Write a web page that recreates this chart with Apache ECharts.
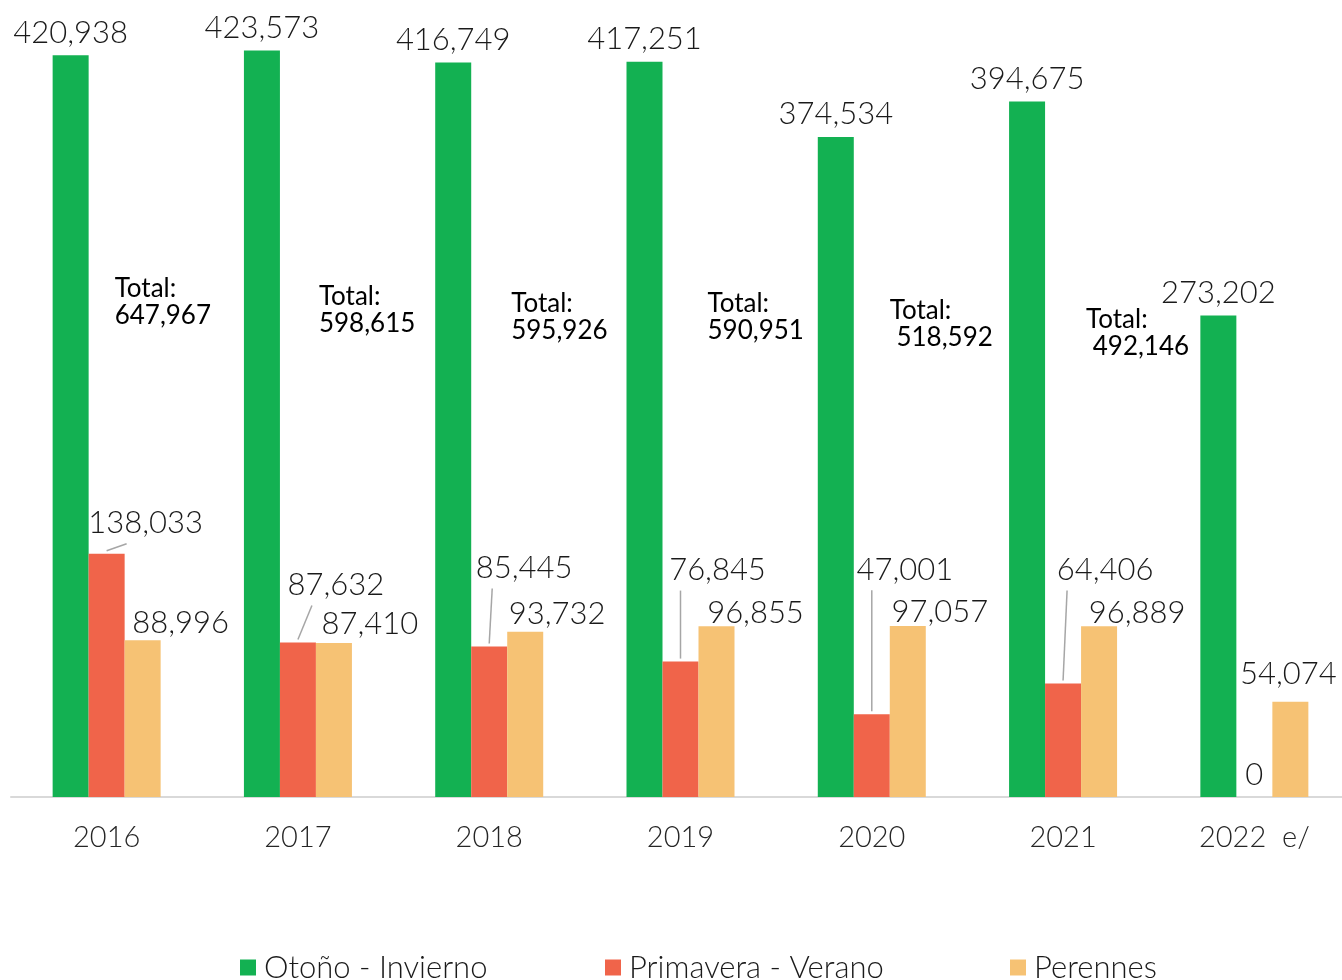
<!DOCTYPE html>
<html>
<head>
<meta charset="utf-8">
<script src="https://cdn.jsdelivr.net/npm/echarts@6/dist/echarts.min.js"></script>
<style>
  html, body { margin: 0; padding: 0; background: #fff; overflow: hidden; }
  #chart { width: 1351px; height: 980px; }
</style>
</head>
<body>
<div id="chart"></div>
<script>
// categorias y valores (hectáreas)
const years = ['2016', '2017', '2018', '2019', '2020', '2021', '2022  e/']
const otonoInvierno = [420938, 423573, 416749, 417251, 374534, 394675, 273202]
const primaveraVerano = [138033, 87632, 85445, 76845, 47001, 64406, 0]
const perennes = [88996, 87410, 93732, 96855, 97057, 96889, 54074]
const totals = ['647,967', '598,615', '595,926', '590,951', ' 518,592', ' 492,146']

// desplazamiento de etiquetas (px), como en el original
const redShift = [[39, -8], [38, -35], [35, -56], [37, -69], [33, -122], [42, -91], [0, 0]]
const yellowShift = [[38, 5], [36, 4], [32, 5], [39, 9], [32, 9], [38, 9], [-2, -5]]
// x final de la línea guía (desde el centro de la barra roja)
const leaderEnd = [20, 14, 3, 0, 0, 4]
// posición de los cuadros "Total" (dx desde el centro de la categoría, top en px)
const totalPos = [[8, 275], [21, 283], [22, 290], [27, 290], [18, 297], [23, 306]]

const FONT = 'Lato'
const fmt = v => v.toLocaleString('en-US')

const chart = echarts.init(document.getElementById('chart'))

const labelBase = {
  show: true,
  position: 'top',
  distance: 7,
  fontFamily: FONT,
  fontWeight: 300,
  fontSize: 31,
  color: '#1a1a1a',
  formatter: p => fmt(p.value)
}

function legendItem(name, left) {
  return {
    left: left,
    top: 952,
    padding: 0,
    itemWidth: 16,
    itemHeight: 16,
    itemGap: 0,
    icon: 'rect',
    textStyle: {
      fontFamily: FONT,
      fontWeight: 300,
      fontSize: 31,
      color: '#1a1a1a',
      padding: [0, 0, 0, 3]
    },
    data: [name]
  }
}

chart.setOption({
  animation: false,
  color: ['#13b152', '#f0644a', '#f6c274'],
  grid: {
    left: 11,
    right: 1,
    top: 4,
    height: 793
  },
  legend: [
    legendItem('Otoño - Invierno', 240),
    legendItem('Primavera - Verano', 605),
    legendItem('Perennes', 1010)
  ],
  xAxis: {
    type: 'category',
    data: years,
    axisTick: { show: false },
    axisLine: {
      lineStyle: { color: '#d9d9d9', width: 2 }
    },
    axisLabel: {
      margin: 26,
      fontFamily: FONT,
      fontWeight: 300,
      fontSize: 29,
      color: '#262626'
    }
  },
  yAxis: {
    type: 'value',
    min: 0,
    max: 450000,
    show: false
  },
  series: [
    {
      name: 'Otoño - Invierno',
      type: 'bar',
      data: otonoInvierno,
      barWidth: 36,
      barGap: 0,
      label: labelBase
    },
    {
      name: 'Primavera - Verano',
      type: 'bar',
      data: primaveraVerano,
      barWidth: 36,
      barGap: 0,
      label: labelBase,
      labelLayout: function (p) {
        const s = redShift[p.dataIndex]
        return { dx: s[0], dy: s[1] }
      }
    },
    {
      name: 'Perennes',
      type: 'bar',
      data: perennes,
      barWidth: 36,
      barGap: 0,
      label: labelBase,
      labelLayout: function (p) {
        const s = yellowShift[p.dataIndex]
        return { dx: s[0], dy: s[1] }
      }
    }
  ]
})

const graphics = []
// textos "Total:" sobre las barras verdes
totals.forEach((t, i) => {
  const cx = chart.convertToPixel({ xAxisIndex: 0 }, years[i])
  graphics.push({
    type: 'text',
    left: cx + totalPos[i][0],
    top: totalPos[i][1],
    style: {
      text: 'Total:\n' + t,
      fontFamily: FONT,
      fontSize: 26,
      lineHeight: 27,
      fill: '#000'
    }
  })
})
// líneas guía de las etiquetas de Primavera - Verano
leaderEnd.forEach((ex, i) => {
  const pt = chart.convertToPixel({ gridIndex: 0 }, [years[i], primaveraVerano[i]])
  const labelY = pt[1] - 23 + redShift[i][1]
  graphics.push({
    type: 'line',
    shape: { x1: pt[0], y1: pt[1] - 3, x2: pt[0] + ex, y2: labelY + 21 },
    style: { stroke: '#a6a6a6', lineWidth: 1.5 },
    silent: true
  })
})
chart.setOption({ graphic: graphics })
</script>
</body>
</html>
